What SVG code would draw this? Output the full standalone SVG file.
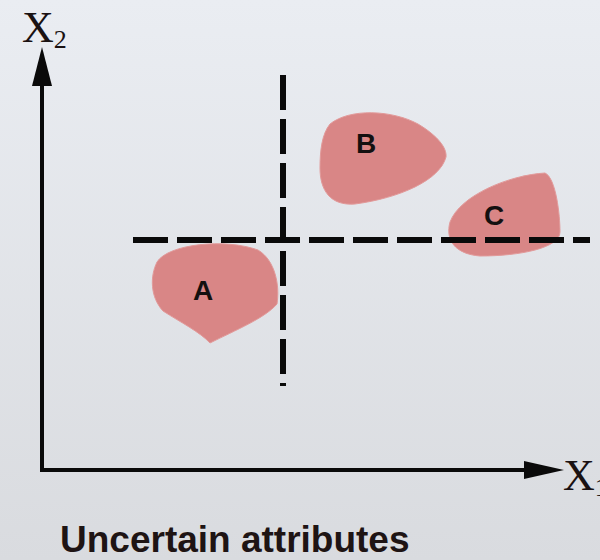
<svg xmlns="http://www.w3.org/2000/svg" width="600" height="560" viewBox="0 0 600 560">
<defs>
<linearGradient id="bg" x1="0" y1="0" x2="0" y2="1">
<stop offset="0" stop-color="#eaedf2"/>
<stop offset="1" stop-color="#d9dbdf"/>
</linearGradient>
<style>
.blob{fill:#d98686;stroke:#e29a9a;stroke-width:1}
.lbl{font-family:"Liberation Sans",Arial,sans-serif;font-weight:bold;font-size:28px;fill:#141010;text-anchor:middle}
.axis{stroke:#0a0a0a;stroke-width:4;fill:none}
.dash{stroke:#0a0a0a;stroke-width:6;fill:none;stroke-dasharray:35 9}
.ax{font-family:"Liberation Serif","Times New Roman",serif;fill:#1a1212}
</style>
</defs>
<rect width="600" height="560" fill="url(#bg)"/>
<g id="A">
<path class="blob" d="M157 262 C168 244 225 238 258 250 C275 260 280 285 277 304 C265 318 236 330 210 343 C200 332 180 322 163 311 C150 297 150 276 157 262 Z"/>
<text class="lbl" x="203" y="300">A</text>
</g>
<g id="B">
<path class="blob" d="M330 124 C350 108 392 110 418 124 C438 136 447 148 446 157 C440 180 400 198 355 204 C330 206 320 190 320 168 C320 150 322 134 330 124 Z"/>
<text class="lbl" x="366" y="153">B</text>
</g>
<g id="C">
<path class="blob" d="M450 222 C460 195 510 175 545 173 C556 178 560 215 560 232 C560 248 520 256 480 256 C455 254 445 240 450 222 Z"/>
<text class="lbl" x="494" y="225">C</text>
</g>
<g id="connectors">
<line class="dash" x1="133" y1="240" x2="590" y2="240"/>
<line class="dash" x1="283" y1="75" x2="283" y2="386"/>
<line class="axis" x1="42" y1="472" x2="42" y2="80"/>
<line class="axis" x1="40" y1="470" x2="530" y2="470"/>
<polygon points="42,47 52,86 32,86" fill="#0a0a0a"/>
<polygon points="564,470 524,461 524,479" fill="#0a0a0a"/>
</g>
<g id="labels">
<text class="ax" x="22" y="42" font-size="44">X<tspan font-size="26" dy="6">2</tspan></text>
<text class="ax" x="563" y="490" font-size="44">X<tspan font-size="26" dy="6">1</tspan></text>
<text x="60" y="552" font-family="Liberation Sans,Arial,sans-serif" font-weight="bold" font-size="37" fill="#1e1414">Uncertain attributes</text>
</g>
</svg>
